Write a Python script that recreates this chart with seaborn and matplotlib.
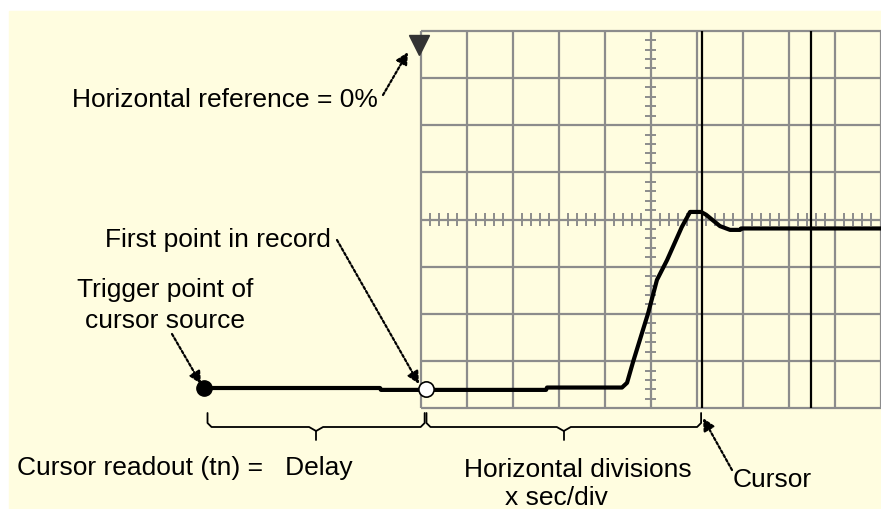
import numpy as np
import pandas as pd
import seaborn as sns
import matplotlib.pyplot as plt
from matplotlib.patches import Rectangle

# waveform, in graticule divisions (0,0 = screen centre)
t_div = [-9.71, -5.88, -5.86, -2.27, -2.25, -0.62, -0.51, -0.38, -0.05, 0.14,
         0.36, 0.68, 0.86, 1.10, 1.21, 1.51, 1.73, 1.95, 1.97, 5.01]
v_div = [-3.57, -3.57, -3.61, -3.61, -3.56, -3.56, -3.46, -3.02, -1.98, -1.28,
         -0.86, -0.16, 0.16, 0.16, 0.10, -0.14, -0.22, -0.22, -0.19, -0.19]
trig_t, trig_v = -9.71, -3.57      # trigger point of cursor source
first_t, first_v = -4.89, -3.59    # first point in record
cursor_t = [1.12, 3.49]
href_t, href_v = -5.03, 3.70       # horizontal reference marker
n_xdiv, n_ydiv = 10, 8

# pixel <-> division mapping for the 881x509 picture
X0, SX = 650.5, 46.0
Y0, SY = 219.5, 47.2


def px(x, y):
    return ((x - X0) / SX, (Y0 - y) / SY)


def tpx(t):
    return X0 + t * SX


sns.set_style("white")
plt.rcParams['font.family'] = ['Liberation Sans', 'DejaVu Sans']

fig = plt.figure(figsize=(8.81, 5.09), dpi=100)
fig.patch.set_facecolor('white')
ax = fig.add_axes([0, 0, 1, 1])
ax.set_xlim(px(0, 0)[0], px(881, 0)[0])
ax.set_ylim(px(0, 509)[1], px(0, 0)[1])
ax.axis('off')

# cream panel
x0, y0 = px(9, 509)
x1, y1 = px(881, 11)
ax.add_patch(Rectangle((x0, y0), x1 - x0, y1 - y0, color='#fffde0', zorder=0))

# graticule
grid_c = '#8c8c8c'
hx, hy = n_xdiv / 2, n_ydiv / 2
ax.vlines(np.arange(-hx, hx + 1), -hy, hy, color=grid_c, lw=1.6, zorder=1)
ax.hlines(np.arange(-hy, hy + 1), -hx, hx, color=grid_c, lw=1.6, zorder=1)
minor_x = [v for v in np.arange(-hx, hx + 0.01, 0.2) if abs(v - round(v)) > 0.01]
minor_y = [v for v in np.arange(-hy, hy + 0.01, 0.2) if abs(v - round(v)) > 0.01]
ax.vlines(minor_x, -0.13, 0.13, color=grid_c, lw=1.4, zorder=1)
ax.hlines(minor_y, -0.13, 0.13, color=grid_c, lw=1.4, zorder=1)

# cursors
ax.vlines(cursor_t, -hy, hy, color='black', lw=1.6, zorder=2)

# waveform
wave = pd.DataFrame({'t': t_div, 'v': v_div})
sns.lineplot(data=wave, x='t', y='v', sort=False, estimator=None,
             color='black', lw=3.0, ax=ax, zorder=3)
ax.plot(trig_t, trig_v, 'o', color='black', ms=11, zorder=4, clip_on=False)
ax.plot(first_t, first_v, 'o', mfc='white', mec='black', mew=1.2, ms=11, zorder=4)
ax.plot(href_t, href_v, 'v', color='#333333', ms=15, zorder=4)


# braces
def brace(ta, tb):
    xa, xb = tpx(ta), tpx(tb)
    xm = (xa + xb) / 2
    pts = [(xa, 413), (xa, 423), (xa + 4, 427), (xm - 7, 427), (xm, 431),
           (xm + 7, 427), (xb - 4, 427), (xb, 423), (xb, 413)]
    d = np.array([px(x, y) for x, y in pts])
    ax.plot(d[:, 0], d[:, 1], color='black', lw=1.3, zorder=3)
    s = np.array([px(xm, 431), px(xm, 440)])
    ax.plot(s[:, 0], s[:, 1], color='black', lw=1.3, zorder=3)


brace(trig_t + 0.08, first_t - 0.02)
brace(first_t + 0.02, cursor_t[0] - 0.02)


# dotted arrows
def arrow(tail, head):
    ax.annotate('', xy=px(*head), xytext=px(*tail),
                arrowprops=dict(arrowstyle='-|>', color='black', lw=1.6,
                                ls=(0, (1.2, 1.0)), mutation_scale=18,
                                shrinkA=0, shrinkB=0), zorder=5)


arrow((383, 95), (408, 52))
arrow((337, 240), (419, 384))
arrow((172, 334), (201, 384))
arrow((732, 470), (703, 418))

fs = 19
txt = dict(fontsize=fs, color='black', va='baseline', zorder=6)
ax.text(*px(72, 107), 'Horizontal reference = 0%', ha='left', **txt)
ax.text(*px(105, 247), 'First point in record', ha='left', **txt)
ax.text(*px(165, 297), 'Trigger point of', ha='center', **txt)
ax.text(*px(165, 328), 'cursor source', ha='center', **txt)
ax.text(*px(17, 475), 'Cursor readout (tn) =   Delay', ha='left', **txt)
ax.text(*px(578, 477), 'Horizontal divisions', ha='center', **txt)
ax.text(*px(556, 505), 'x sec/div', ha='center', **txt)
ax.text(*px(733, 487), 'Cursor', ha='left', **txt)

plt.savefig('out.png', dpi=100, facecolor=fig.get_facecolor())
